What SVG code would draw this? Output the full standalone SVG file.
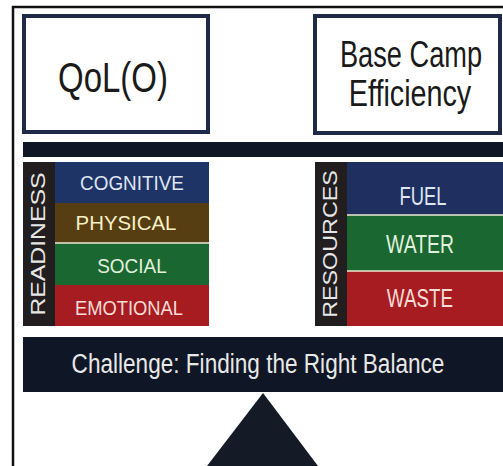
<svg xmlns="http://www.w3.org/2000/svg" width="503" height="466" viewBox="0 0 503 466">
  <style>
    .frame { fill: none; stroke: #111; stroke-width: 2.5; }
    .box { fill: #fff; stroke: #1e2a47; stroke-width: 4; }
    .bar { fill: #0f1726; }
    .strip { fill: #221e1f; }
    .sep { stroke: #ece8d4; stroke-width: 1.5; }
    .blue { fill: #1f3466; }
    .brown { fill: #563d12; }
    .green { fill: #1a6731; }
    .red { fill: #a61c21; }
    text { font-family: "Liberation Sans", Arial, sans-serif; text-anchor: middle; }
    .title { fill: #1a1a1a; }
    .side { fill: #e6e6e6; }
  </style>

  <!-- outer frame (top and left edges) -->
  <polyline class="frame" points="13,466 13,7 503,7"/>

  <g id="qol">
    <rect class="box" x="24" y="16" width="184" height="116"/>
    <text class="title" transform="translate(113,92) scale(0.767,1)" font-size="43">QoL(O)</text>
  </g>

  <g id="basecamp">
    <rect class="box" x="315" y="16" width="185" height="117"/>
    <text class="title" transform="translate(411,67) scale(0.735,1)" font-size="37">Base Camp</text>
    <text class="title" transform="translate(410,106) scale(0.777,1)" font-size="37">Efficiency</text>
  </g>

  <!-- balance beam -->
  <g id="beam">
    <rect class="bar" x="23" y="142" width="480" height="15"/>
  </g>

  <g id="readiness">
    <rect class="strip" x="23" y="162" width="32" height="164"/>
    <rect class="blue" x="55" y="162" width="154" height="41"/>
    <rect class="brown" x="55" y="203" width="154" height="40"/>
    <rect class="green" x="55" y="243" width="154" height="42"/>
    <rect class="red" x="55" y="285" width="154" height="41"/>
    <line class="sep" x1="55" y1="243" x2="209" y2="243"/>
    <text class="side" transform="translate(45,244) rotate(-90) scale(1.18,1)" font-size="21">READINESS</text>
    <text transform="translate(132,190) scale(0.97,1)" font-size="19.5" fill="#dfe6f2">COGNITIVE</text>
    <text transform="translate(126,230) scale(1.02,1)" font-size="20" fill="#f6efc4">PHYSICAL</text>
    <text transform="translate(132,273) scale(0.95,1)" font-size="20" fill="#e2f1dc">SOCIAL</text>
    <text transform="translate(129,315) scale(0.895,1)" font-size="20.5" fill="#f9dcd6">EMOTIONAL</text>
  </g>

  <g id="resources">
    <rect class="strip" x="315" y="162" width="32" height="164"/>
    <rect class="blue" x="347" y="162" width="156" height="53" style="fill:#1e2f60"/>
    <rect class="green" x="347" y="215" width="156" height="56"/>
    <rect class="red" x="347" y="271" width="156" height="55"/>
    <line class="sep" x1="347" y1="215" x2="503" y2="215"/>
    <line class="sep" x1="347" y1="271" x2="503" y2="271"/>
    <text class="side" transform="translate(337,244) rotate(-90) scale(1.11,1)" font-size="21">RESOURCES</text>
    <text transform="translate(423,205) scale(0.735,1)" font-size="25" fill="#dfe6f2">FUEL</text>
    <text transform="translate(420,253) scale(0.775,1)" font-size="25" fill="#e2f1dc">WATER</text>
    <text transform="translate(420,307) scale(0.754,1)" font-size="25" fill="#f9dcd6">WASTE</text>
  </g>

  <g id="challenge">
    <rect class="bar" x="23" y="337" width="480" height="55"/>
    <text transform="translate(258,373) scale(0.837,1)" font-size="27" fill="#e8e8e8">Challenge: Finding the Right Balance</text>
  </g>

  <g id="fulcrum">
    <polygon points="263,393 207,466 318,466" fill="#141a26"/>
  </g>
</svg>
